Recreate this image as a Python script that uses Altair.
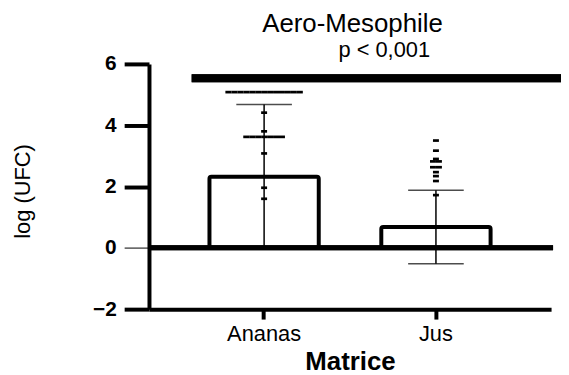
import altair as alt
import pandas as pd

# ---- data ----
categories = ["Ananas", "Jus"]
means = [2.32, 0.68]
sds = [2.36, 1.20]

ananas_values = [5.08] * 13 + [4.41, 3.80] + [3.62] * 7 + [3.08, 1.96, 1.60]
jus_values = [3.50, 3.17, 2.90, 2.82, 2.82, 2.63, 2.63, 2.47, 2.34, 2.18, 1.72]

y_ticks = [-2, 0, 2, 4, 6]
sig_level = 5.53
p_label = "p < 0,001"
chart_title = "Aero-Mesophile"

FONT = "Liberation Sans"

W, H = 405, 247
PAD_INNER, PAD_OUTER = 0.364, 0.352
step = W / (len(categories) - PAD_INNER + 2 * PAD_OUTER)
half_band = step * (1 - PAD_INNER) / 2

# ---- tables ----
summary = pd.DataFrame({
    "Matrice": categories,
    "mean": means,
    "lo": [m - s for m, s in zip(means, sds)],
    "hi": [m + s for m, s in zip(means, sds)],
})

rows = []
for cat, vals in [("Ananas", ananas_values), ("Jus", jus_values)]:
    counts = {}
    for v in vals:
        counts[v] = counts.get(v, 0) + 1
    seen = {}
    for v in vals:
        i = seen.get(v, 0)
        seen[v] = i + 1
        rows.append({"Matrice": cat, "value": v,
                     "off": half_band + (i - (counts[v] - 1) / 2) * 6})
points = pd.DataFrame(rows)

xscale = alt.Scale(domain=categories, paddingInner=PAD_INNER, paddingOuter=PAD_OUTER)
yscale = alt.Scale(domain=[-2, 6], nice=False, zero=False)

xaxis = alt.Axis(
    labelAngle=0, labelFontSize=22, labelFont=FONT, labelColor="black",
    labelPadding=5, tickSize=10, tickWidth=4, tickColor="black",
    domainWidth=4, domainColor="black", title="Matrice",
    titleFont=FONT, titleFontSize=26, titleFontWeight="bold",
    titleColor="black", titlePadding=4,
)
yaxis = alt.Axis(
    values=y_ticks, labelFontSize=21, labelFont=FONT, labelFontWeight="bold",
    labelColor="black", labelPadding=8, tickSize=25,
    tickWidth=alt.condition("datum.value === 0", alt.value(1), alt.value(4)),
    tickColor="black", domainWidth=4, domainColor="black", grid=False,
    title="log (UFC)", titleFont=FONT, titleFontSize=22,
    titleFontWeight="normal", titleColor="black",
    titleX=-120, titleY=128, titleBaseline="alphabetic", titleAlign="center",
    titleAngle=270,
)

bars = alt.Chart(summary).mark_bar(
    fill="white", stroke="black", strokeWidth=4, cornerRadius=2
).encode(
    x=alt.X("Matrice:N", scale=xscale, axis=xaxis, sort=categories),
    y=alt.Y("mean:Q", scale=yscale, axis=yaxis),
    y2=alt.datum(0),
)

err = alt.Chart(summary).mark_rule(color="black", strokeWidth=1.5).encode(
    x=alt.X("Matrice:N", scale=xscale, sort=categories),
    y=alt.Y("lo:Q", scale=yscale),
    y2="hi:Q",
)

cap_hi = alt.Chart(summary).mark_tick(color="black", thickness=1.5, size=56).encode(
    x=alt.X("Matrice:N", scale=xscale, sort=categories),
    y=alt.Y("hi:Q", scale=yscale),
)
cap_lo = alt.Chart(summary).mark_tick(color="black", thickness=1.5, size=56).encode(
    x=alt.X("Matrice:N", scale=xscale, sort=categories),
    y=alt.Y("lo:Q", scale=yscale),
)

dash = "M-1,-0.45L1,-0.45L1,0.45L-1,0.45Z"
pts = alt.Chart(points).mark_point(
    shape=dash, filled=True, color="black", size=36, opacity=1
).encode(
    x=alt.X("Matrice:N", scale=xscale, sort=categories),
    xOffset=alt.XOffset("off:Q", scale=None),
    y=alt.Y("value:Q", scale=yscale),
)

zero = alt.Chart(summary).mark_rule(color="black", strokeWidth=5).encode(
    y=alt.datum(0),
    x=alt.value(0),
    x2=alt.value(407),
)

sig = alt.Chart(summary).mark_rule(color="black", strokeWidth=8).encode(
    y=alt.datum(sig_level),
    x=alt.value(43),
    x2=alt.value(415),
)

ptext = alt.Chart(pd.DataFrame({"t": [p_label]})).mark_text(
    font=FONT, fontSize=22, color="black", baseline="alphabetic", align="center"
).encode(
    text="t:N",
    x=alt.value(237),
    y=alt.value(-7),
)

ttext = alt.Chart(pd.DataFrame({"t": [chart_title]})).mark_text(
    font=FONT, fontSize=26, color="black", baseline="alphabetic", align="center"
).encode(
    text="t:N",
    x=alt.value(205),
    y=alt.value(-32),
)

chart = alt.layer(bars, err, cap_hi, cap_lo, pts, zero, sig, ptext, ttext).properties(
    width=W,
    height=H,
    autosize=alt.AutoSizeParams(type="none"),
    padding={"left": 142, "top": 55, "right": 10, "bottom": 64},
    background="white",
).configure_view(stroke=None)

chart.save("out.html", embed_options={"renderer": "svg", "actions": False})
